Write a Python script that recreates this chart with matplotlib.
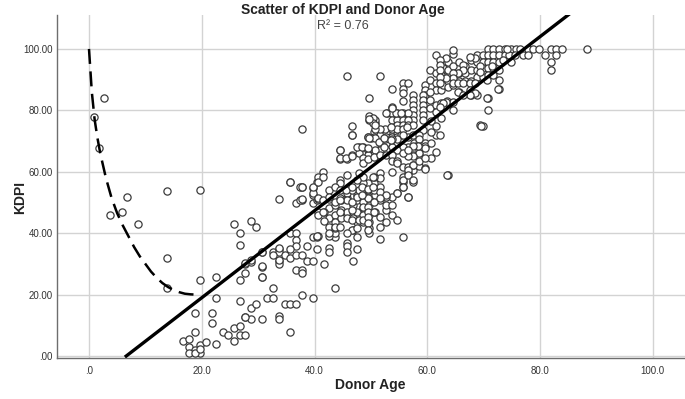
import numpy as np
import matplotlib
matplotlib.use("Agg")
from matplotlib import pyplot as plt

plt.rcParams['font.family'] = ['Liberation Sans', 'DejaVu Sans']

# ---- data (donor age, KDPI) ----
young_pts = [(0.8, 77.9), (2.7, 83.9), (1.8, 67.9), (3.8, 45.9), (5.8, 46.8), (6.8, 51.9),
             (8.7, 43), (13.8, 53.8), (13.8, 31.8), (13.8, 22)]

low_pts = [(16.7, 5), (17.8, 5.7), (18.8, 7.9), (18.8, 14), (19.7, 3.6), (20.7, 4.7), (21.8, 14),
           (21.8, 10.8), (17.8, 3), (18.8, 2), (19.7, 1), (17.8, 0.9), (18.8, 1), (19.7, 2.2),
           (22.6, 3.9), (19.7, 24.8), (19.7, 54.1), (22.6, 25.8), (22.6, 18.8), (23.7, 7.9),
           (24.7, 6.8), (25.7, 9), (25.7, 5), (26.8, 9.8), (26.8, 6.8), (27.7, 6.8), (27.7, 12.8),
           (28.7, 12), (28.7, 15.8), (29.7, 16.9), (26.8, 18), (26.8, 24.8), (27.7, 26.9), (27.7, 30),
           (28.7, 30.7), (29.7, 42), (28.7, 44), (25.7, 43), (26.8, 40), (26.8, 36), (30.6, 34),
           (30.6, 28.9), (30.6, 25.8), (30.6, 12), (31.6, 18.9), (32.6, 22.1), (32.7, 34), (32.7, 18.8),
           (30.7, 33.9), (28.7, 31.3), (27.7, 30.3), (30.7, 29.3), (30.7, 25.7), (27.7, 12.7)]

mid_low_pts = [(33.7, 51), (35.6, 56.7), (37.8, 55), (36.7, 49.8), (37.8, 50.8), (39.7, 54.7), (39.7, 52.4),
               (39.7, 49.8), (40.4, 50.8), (40.4, 56.7), (35.6, 40), (36.7, 40), (36.7, 37.8), (36.7, 35.8),
               (35.6, 34.9), (33.7, 34.9), (33.7, 33.9), (32.6, 32.9), (33.7, 30.9), (33.7, 30), (34.8, 32.9),
               (35.6, 31.9), (36.7, 32.9), (37.8, 32.9), (38.7, 35.8), (38.7, 30.9), (39.7, 30.9), (39.7, 38.8),
               (40.4, 38.8), (40.4, 34.9), (36.7, 28), (37.8, 28), (37.8, 27), (33.7, 13), (33.7, 12),
               (34.8, 16.9), (35.6, 16.9), (36.7, 16.9), (37.8, 19.9), (39.7, 18.9), (35.6, 7.8), (33.7, 35.1),
               (33.7, 31.3), (41.7, 30), (42.6, 35.1), (42.6, 34), (43.6, 38.9), (45.7, 36.7), (45.7, 35.8),
               (45.7, 34), (47.6, 34.8), (46.8, 30.9), (43.6, 22), (37.7, 73.9), (40.7, 39.1), (42.6, 39.1),
               (43.6, 40)]

mid_pts = [(42.6, 54.1), (42.6, 51), (42.6, 48.1), (42.6, 44.9), (42.6, 42.1), (42.6, 40), (43.6, 49.2),
           (43.6, 45.9), (43.6, 43.7), (43.6, 41.6), (44.7, 50.8), (44.7, 47.6), (44.7, 44.9), (45.7, 47),
           (45.7, 44.9), (46.8, 49.2), (46.8, 47), (46.8, 44.9), (46.8, 41), (47.6, 50.8), (47.6, 47),
           (47.6, 43.7), (48.6, 48.1), (48.6, 45.9), (48.6, 43.7), (49.6, 51.9), (49.6, 49.2), (49.6, 45.9),
           (49.6, 43.7), (49.6, 41.6), (49.6, 40), (50.7, 47), (51.6, 42.1), (52.7, 43.7), (51.6, 38),
           (55.6, 38.9), (56.6, 51.9), (54.6, 53.2), (53.7, 51.9), (52.7, 51.9), (51.6, 51.9), (50.7, 52.4),
           (48.6, 53.5), (47.6, 52.4), (45.7, 51.4), (39.7, 53), (40.7, 51), (40.7, 47), (40.7, 45.9),
           (41.7, 47), (41.7, 44.1),
           (46.6, 72), (49.5, 71.2), (50.5, 73.1), (50.5, 71.2), (51.6, 72), (52.7, 73.1), (52.7, 71.2),
           (53.7, 71.2), (54.6, 73.1), (54.6, 71.2), (55.4, 72), (56.6, 71.2), (57.6, 69.3), (57.6, 67.1),
           (58.6, 69.3), (58.6, 67.1), (59.6, 69.3), (59.6, 68.4), (58.6, 65.5), (57.5, 65.5), (56.6, 65.5),
           (56.6, 68.2), (55.7, 68.2), (54.7, 69.3), (54.7, 67.1), (53.7, 68.2), (52.7, 69.3), (52.7, 67.1),
           (51.6, 69.3), (51.6, 67.1), (50.7, 67.1), (49.5, 67.1), (49.5, 65.5), (48.6, 68.2), (47.8, 68.2),
           (47.8, 66), (46.6, 65.5), (45.7, 64.1), (44.5, 64.1), (44.5, 67.1), (48.6, 64.4), (48.6, 62.8),
           (49.5, 64.1), (50.5, 64.9), (51.6, 65.5), (52.7, 65.5), (53.7, 65.5), (53.7, 63.6), (54.7, 63.6),
           (54.7, 62.8), (55.6, 61.7), (56.6, 61.7), (57.5, 60.6), (57.5, 62.2), (58.6, 61.9), (59.6, 61.1),
           (56.6, 59.5), (55.7, 58.4), (55.6, 56.8), (57.5, 56.8), (55.6, 55.2), (54.7, 53.2), (51.6, 50.8),
           (51.6, 55.2), (50.5, 56.3), (49.5, 56.3), (48.6, 56.3), (48.6, 54.1), (49.5, 54.1), (50.5, 54.1),
           (51.6, 53.5), (52.7, 52.4), (53.7, 60), (51.6, 59.5), (51.6, 57.9), (50.5, 58.4), (48.6, 58.4),
           (47.8, 59.5), (45.7, 59), (44.5, 57.3), (44.5, 56.3), (43.6, 55.2), (41.5, 60), (40.7, 58.4),
           (39.7, 55.2), (40.7, 51.4), (41.5, 50.8), (44.5, 51.4), (45.7, 53), (45.7, 50.8), (46.6, 50.3),
           (47.5, 51.9), (47.8, 54.1), (46.6, 54.1), (48.6, 50.3), (49.5, 51.4), (50.5, 50.3), (51.6, 51.4),
           (41.5, 47), (43.6, 42.1), (44.5, 47), (46.6, 47.6), (46.6, 44.3), (47.8, 44.3), (48.6, 48.6),
           (48.6, 44.3), (49.5, 48.6), (49.5, 47), (49.5, 45.4), (49.5, 43.2), (49.5, 41), (50.5, 47),
           (46.6, 41), (40.4, 39.1), (37.4, 55.2), (37.4, 50.8),
           (35.6, 56.8), (37.7, 51), (37.7, 55.2), (40.7, 56.8), (41.5, 58.4), (42.6, 51.9), (43.6, 50.3),
           (44.5, 54.1), (44.5, 50.8), (45.6, 54.1), (46.6, 55.2), (47.5, 57.3), (48.5, 52.4), (48.5, 55.2),
           (49.5, 54.3), (50.4, 58.4), (50.4, 55.2),
           (52.7, 47.6), (53.7, 45.9), (54.6, 44.3), (52.7, 49.2), (51.6, 45.4), (53.7, 49.2), (47.6, 38.9),
           (45.7, 40), (44.5, 42.1), (47.6, 41.6)]

upper_pts = [(45.7, 91.2), (51.6, 91.2), (53.7, 87), (55.6, 89), (56.6, 89), (55.6, 87), (55.6, 85.8),
             (49.7, 83.9), (55.6, 83.1), (59.6, 88.3), (59.6, 86.6), (59.6, 85), (60.5, 93.2), (61.5, 98),
             (61.5, 92.1), (60.5, 89.9), (62.5, 95.3), (63.4, 96.4), (63.4, 93.2), (62.5, 91.5), (61.5, 88.8),
             (61.5, 86.6), (60.5, 86.1), (62.5, 86.6), (63.4, 89.9), (63.4, 88.3),
             (57.5, 85), (59.2, 85), (57.5, 83.4), (59.2, 83.4), (57.5, 81.8), (59.2, 81.8), (57.5, 80.1),
             (59.2, 80.1), (57.5, 78.5), (59.2, 78.5), (57.5, 76.9), (59.2, 76.9), (59.2, 73.6),
             (60.5, 83.4), (60.5, 80.7), (61.5, 81.8), (61.5, 79.6), (62.5, 82.3), (63.4, 82.8),
             (53.7, 81.2), (52.8, 79.1), (53.7, 79.1), (54.6, 79.1), (55.6, 79.1), (56.6, 79.1), (53.7, 76.9),
             (54.6, 76.9), (55.6, 76.9), (56.6, 76.9), (54.6, 75.2), (55.6, 75.2), (56.6, 75.2), (57.5, 75.2),
             (53.7, 73.8), (54.6, 73.8), (55.6, 73.8), (55.6, 72), (57.5, 72), (58.6, 72), (58.6, 70.6),
             (54.6, 70.6), (53.7, 70.6), (52.5, 70.6), (52.5, 73.8), (51.6, 73.8), (50.7, 73.8), (50.7, 76),
             (49.7, 76.9), (49.7, 78.2), (50.7, 76.9), (46.6, 74.9), (46.6, 72), (50, 71), (50.7, 71),
             (44.5, 67.1), (44.5, 64.4), (45.6, 64.4), (46.6, 65.1), (47.5, 68.2), (48.5, 68.2), (49.5, 71.4),
             (49.5, 67.7), (50.4, 77.4), (50.4, 75.8), (51.5, 69.8), (52.4, 70.9), (52.4, 68.2), (53.5, 74.7),
             (53.5, 70.4), (54.4, 79.1), (55.4, 79.1), (56.4, 74.7), (49.7, 77.1), (50.7, 75.2), (49.7, 70.9),
             (52.7, 79.1), (53.7, 80.7),
             (59.6, 60.8), (63.6, 59), (69.3, 75.2), (64.6, 80.1), (61.5, 72), (60.6, 73.1), (60.6, 69.3),
             (59.6, 67.9), (58.6, 66), (57.5, 65.1), (56.6, 65.1), (55.7, 66), (57.5, 62.2), (56.6, 60.6),
             (55.7, 57.3), (55.7, 54.9), (56.6, 59), (57.5, 57.3), (56.6, 51.9), (58.3, 68.5), (57.5, 68.5),
             (56.6, 67.1),
             (60.6, 76.5), (61.5, 75), (62.5, 77.4), (60.6, 64.4), (61.5, 66.6), (58.6, 63.6), (59.6, 64.4)]

old_pts = [(62.7, 95.9), (62.7, 93.7), (62.7, 89.4), (62.7, 88.3), (63.7, 95.9), (63.7, 93.2), (63.7, 89.4),
           (63.7, 87.7), (64.6, 98.5), (64.6, 94.3), (64.6, 91), (64.6, 88.3), (65.7, 95.9), (65.7, 92.1),
           (65.7, 89.4), (65.7, 86.1), (66.7, 94.3), (66.7, 92.1), (66.7, 89.4), (67.7, 96.4), (67.7, 93.2),
           (67.7, 89.4), (67.7, 85.1), (68.8, 98), (68.8, 95.9), (68.8, 93.2), (68.8, 91), (68.8, 85.1),
           (69.8, 98), (69.8, 95.9), (69.8, 93.7), (69.8, 91), (69.8, 75), (70.8, 100), (70.8, 98),
           (70.8, 95.9), (70.8, 93.7), (70.8, 91.5), (70.8, 84), (70.8, 80.2), (71.7, 100), (71.7, 98),
           (71.7, 95.9), (71.7, 93.7), (71.7, 91.5), (72.8, 100), (72.8, 98), (72.8, 95.9), (72.8, 93.2),
           (72.8, 89.9), (72.8, 87), (73.8, 100), (73.8, 98), (74.9, 100), (74.9, 95.9), (75.8, 100),
           (76.9, 98), (77.8, 100), (77.8, 98), (78.8, 100), (79.8, 100), (80.9, 98), (81.9, 100),
           (81.9, 95.9), (81.9, 93), (82.9, 100), (82.9, 98), (83.9, 100), (88.3, 100), (63.5, 83),
           (63.5, 59), (62.2, 72),
           (68.4, 97), (69.3, 94.3), (69.3, 92.6), (70.5, 89.9), (71.4, 94.3), (72.6, 86.9), (73.5, 96.4),
           (74.5, 98), (75.5, 98), (74.2, 100), (76.4, 100), (67.6, 97.5), (66.4, 94.8), (66.4, 93.2),
           (65.5, 92.1), (64.6, 99.7), (64.6, 92.1), (64.6, 90.4), (63.4, 97), (63.4, 90.4), (62.2, 96.4),
           (62.2, 94.8), (62.2, 93.2), (62.2, 91), (62.2, 88.8), (64.6, 88.8), (65.5, 88.8), (66.4, 88.8),
           (67.6, 88.8), (68.4, 88.8), (67.6, 86.6), (68.4, 85.6), (65.5, 86.1), (64.6, 82.8), (63.4, 82.8),
           (62.7, 82.3), (62.2, 81.2), (67.6, 85), (66.4, 85), (70.6, 83.9), (69.6, 74.9)]

# fitted lines as drawn
fit_slope = 1.417
fit_intercept = -9.35
curve_age = [0, 0.5, 1, 1.5, 2, 3, 4, 5, 6, 7, 8, 9, 10, 11, 12, 13, 14, 15, 16, 17, 18, 19, 19.6]
curve_kdpi = [100, 86, 77, 71, 66, 58, 51.5, 46.5, 42.5, 39, 35.5, 32.5, 30, 27.5, 25.5, 23.8, 22.5,
              21.5, 20.8, 20.3, 20.1, 20, 20]

x_ticks = [0, 20, 40, 60, 80, 100]
x_tick_labels = ['.0', '20.0', '40.0', '60.0', '80.0', '100.0']
y_ticks = [0, 20, 40, 60, 80, 100]
y_tick_labels = ['.00', '20.00', '40.00', '60.00', '80.00', '100.00']

all_pts = np.array(young_pts + low_pts + mid_low_pts + mid_pts + upper_pts + old_pts)
donor_age = all_pts[:, 0]
kdpi = all_pts[:, 1]

fig = plt.figure(figsize=(6.85, 3.99), dpi=100)
ax = fig.add_axes([0.083, 0.103, 0.917, 0.859])
ax.set_xlim(-5.7, 105.7)
ax.set_ylim(-0.6, 111)

ax.set_xticks(x_ticks)
ax.set_xticklabels(x_tick_labels)
ax.set_yticks(y_ticks)
ax.set_yticklabels(y_tick_labels)
ax.tick_params(length=0, labelsize=7, colors='#333333')
ax.tick_params(axis='x', pad=6)
ax.tick_params(axis='y', pad=3)
ax.grid(True, color='#d3d3d3', linewidth=1.0)
ax.set_axisbelow(True)
for s in ['top', 'right']:
    ax.spines[s].set_visible(False)
for s in ['left', 'bottom']:
    ax.spines[s].set_color('#6e6e6e')
    ax.spines[s].set_linewidth(1.0)

ax.plot(donor_age, kdpi, ls='none', marker='o', ms=5.2, mfc='white', mec='#3c3c3c', mew=0.9, zorder=3)

line_x = np.array([-fit_intercept / fit_slope, 95])
ax.plot(line_x, fit_slope * line_x + fit_intercept, color='black', lw=2.4, zorder=4)
ax.plot(curve_age, curve_kdpi, color='black', lw=1.8, dashes=(6, 3), zorder=4)

fig.text(370 / 685, 1 - 385 / 399, 'Donor Age', ha='center', va='center',
         fontsize=10, fontweight='bold', color='#222222')
fig.text(20 / 685, 1 - 198 / 399, 'KDPI', ha='center', va='center', rotation=90,
         fontsize=10, fontweight='bold', color='#222222')

fig.text(0.5, 0.974, 'Scatter of KDPI and Donor Age', ha='center', va='center',
         fontsize=10, fontweight='bold', color='#222222')
fig.text(0.5, 0.935, 'R² = 0.76', ha='center', va='center', fontsize=9, color='#444444')

fig.savefig('out.png', dpi=100)
